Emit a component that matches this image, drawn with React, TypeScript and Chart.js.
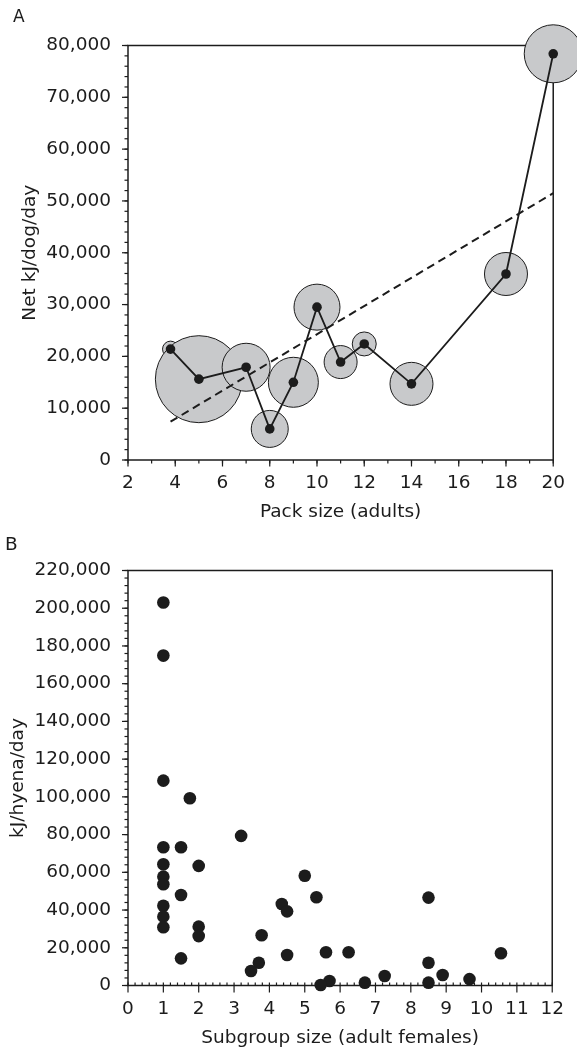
import React, { useEffect, useRef } from 'react';
import { Chart, registerables } from 'chart.js';

Chart.register(...registerables);

const FONT_FAMILY = '"DejaVu Sans", "Liberation Sans", Arial, sans-serif';
const INK = '#1c1c1c';
const BUBBLE_FILL = '#c8c9cb';

// ---------- Panel A: wild dogs ----------
const packSize = [3.8, 5, 7, 8, 9, 10, 11, 12, 14, 18, 20];
const netKJPerDog = [21400, 15600, 17900, 6000, 15000, 29500, 18900, 22400, 14700, 35900, 78400];
const bubbleRadius = [8, 43.5, 24, 18.5, 25, 23, 16.5, 12, 21.5, 21.5, 29];
const trendPackSize = [3.8, 20];
const trendNetKJ = [7400, 51500];

// ---------- Panel B: hyenas ----------
const subgroupSize = [
  1, 1, 1, 1.75, 3.2, 1, 1.5, 1, 2, 1, 1, 5, 1.5, 5.33, 8.5, 1, 4.35, 4.5, 1, 1,
  2, 2, 3.78, 5.6, 6.24, 10.55, 4.5, 1.5, 8.5, 3.7, 3.48, 7.26, 8.9, 9.66, 5.7,
  5.45, 6.7, 8.5,
];
const kJPerHyena = [
  203000, 174900, 108600, 99300, 79300, 73300, 73300, 64300, 63400, 57700, 53700,
  58200, 48000, 46800, 46600, 42300, 43200, 39300, 36500, 30900, 31200, 26200,
  26600, 17600, 17600, 17100, 16200, 14400, 12100, 12100, 7700, 5000, 5600, 3400,
  2400, 300, 1500, 1500,
];

const font = (size: number) => ({ family: FONT_FAMILY, size, weight: 'normal' as const });
const fmt = (v: number | string) => Number(v).toLocaleString('en-US');

const frameTicks = {
  id: 'frameTicks',
  beforeDatasetsDraw(chart: any, _args: any, opts: any) {
    const { ctx, chartArea: a, scales } = chart;
    ctx.save();
    ctx.strokeStyle = INK;
    ctx.lineWidth = 1.5;
    ctx.strokeRect(a.left, a.top, a.right - a.left, a.bottom - a.top);
    ctx.lineWidth = 1.2;
    const xs = scales.x;
    const ys = scales.y;
    const drawX = (step: number, len: number) => {
      const n = Math.round((xs.max - xs.min) / step);
      for (let i = 0; i <= n; i++) {
        const px = xs.getPixelForValue(xs.min + i * step);
        ctx.beginPath();
        ctx.moveTo(px, a.bottom);
        ctx.lineTo(px, a.bottom + len);
        ctx.stroke();
      }
    };
    const drawY = (step: number, len: number) => {
      const n = Math.round((ys.max - ys.min) / step);
      for (let i = 0; i <= n; i++) {
        const py = ys.getPixelForValue(ys.min + i * step);
        ctx.beginPath();
        ctx.moveTo(a.left, py);
        ctx.lineTo(a.left - len, py);
        ctx.stroke();
      }
    };
    drawX(opts.xMinor, opts.xMinorLen);
    drawX(opts.xMajor, opts.xMajorLen);
    drawY(opts.yMinor, opts.yMinorLen);
    drawY(opts.yMajor, opts.yMajorLen);
    ctx.restore();
  },
  afterDraw(chart: any, _args: any, opts: any) {
    const { ctx } = chart;
    ctx.save();
    ctx.fillStyle = INK;
    ctx.font = `${opts.letterSize}px ${FONT_FAMILY}`;
    ctx.textBaseline = 'middle';
    ctx.textAlign = 'left';
    ctx.fillText(opts.letter, opts.letterX, opts.letterY);
    ctx.restore();
  },
};

function PanelA() {
  const ref = useRef<HTMLCanvasElement>(null);
  useEffect(() => {
    if (!ref.current) return;
    const chart = new Chart(ref.current, {
      type: 'scatter',
      data: {
        datasets: [
          {
            type: 'line',
            data: packSize.map((x, i) => ({ x, y: netKJPerDog[i] })),
            borderColor: INK,
            borderWidth: 1.8,
            pointRadius: 4.8,
            pointBackgroundColor: INK,
            pointBorderWidth: 0,
            tension: 0,
            order: 1,
            clip: false,
          } as any,
          {
            type: 'line',
            data: trendPackSize.map((x, i) => ({ x, y: trendNetKJ[i] })),
            borderColor: INK,
            borderWidth: 2,
            borderDash: [8, 5],
            pointRadius: 0,
            order: 2,
            clip: false,
          } as any,
          {
            type: 'bubble',
            data: packSize.map((x, i) => ({ x, y: netKJPerDog[i], r: bubbleRadius[i] })),
            backgroundColor: BUBBLE_FILL,
            borderColor: INK,
            borderWidth: 1,
            order: 3,
            clip: false,
          } as any,
        ],
      },
      options: {
        animation: false,
        responsive: false,
        maintainAspectRatio: false,
        events: [],
        layout: { autoPadding: false, padding: { left: 0, top: 45.5, right: 23, bottom: 0 } },
        plugins: {
          legend: { display: false },
          tooltip: { enabled: false },
          frameTicks: {
            xMajor: 2, xMinor: 1, xMajorLen: 6.5, xMinorLen: 3.5,
            yMajor: 10000, yMinor: 2000, yMajorLen: 6, yMinorLen: 3.5,
            letter: 'A', letterX: 13, letterY: 17.5, letterSize: 17,
          },
        } as any,
        scales: {
          x: {
            type: 'linear',
            min: 2,
            max: 20,
            grid: { display: false, drawTicks: false },
            border: { display: false },
            ticks: { stepSize: 2, padding: 12, color: INK, font: font(18.5) },
            title: {
              display: true,
              text: 'Pack size (adults)',
              color: INK,
              font: font(18.5),
              padding: { top: 0, bottom: 7 },
            },
            afterFit: (s: any) => { s.height = 70; },
          },
          y: {
            type: 'linear',
            min: 0,
            max: 80000,
            grid: { display: false, drawTicks: false },
            border: { display: false },
            ticks: { stepSize: 10000, padding: 17, color: INK, font: font(18.5), callback: fmt },
            title: {
              display: true,
              text: 'Net kJ/dog/day',
              color: INK,
              font: font(18.5),
              padding: { top: 19, bottom: 0 },
            },
            afterFit: (s: any) => { s.width = 128; },
          },
        },
      } as any,
      plugins: [frameTicks],
    });
    return () => chart.destroy();
  }, []);
  return (
    <canvas
      ref={ref}
      width={577}
      height={530}
      style={{ position: 'absolute', left: 0, top: 0, width: 577, height: 530, display: 'block' }}
    />
  );
}

function PanelB() {
  const ref = useRef<HTMLCanvasElement>(null);
  useEffect(() => {
    if (!ref.current) return;
    const chart = new Chart(ref.current, {
      type: 'scatter',
      data: {
        datasets: [
          {
            data: subgroupSize.map((x, i) => ({ x, y: kJPerHyena[i] })),
            pointRadius: 6.3,
            pointBackgroundColor: INK,
            pointBorderWidth: 0,
            clip: false,
          } as any,
        ],
      },
      options: {
        animation: false,
        responsive: false,
        maintainAspectRatio: false,
        events: [],
        layout: { autoPadding: false, padding: { left: 0, top: 40.5, right: 22, bottom: 0 } },
        plugins: {
          legend: { display: false },
          tooltip: { enabled: false },
          frameTicks: {
            xMajor: 1, xMinor: 0.2, xMajorLen: 7, xMinorLen: -3,
            yMajor: 20000, yMinor: 4000, yMajorLen: 6, yMinorLen: 3.5,
            letter: 'B', letterX: 5, letterY: 15, letterSize: 18.5,
          },
        } as any,
        scales: {
          x: {
            type: 'linear',
            min: 0,
            max: 12,
            grid: { display: false, drawTicks: false },
            border: { display: false },
            ticks: { stepSize: 1, padding: 13, color: INK, font: font(18.5) },
            title: {
              display: true,
              text: 'Subgroup size (adult females)',
              color: INK,
              font: font(18.5),
              padding: { top: 0, bottom: 4.4 },
            },
            afterFit: (s: any) => { s.height = 68.5; },
          },
          y: {
            type: 'linear',
            min: 0,
            max: 220000,
            grid: { display: false, drawTicks: false },
            border: { display: false },
            ticks: { stepSize: 20000, padding: 17, color: INK, font: font(18.5), callback: fmt },
            title: {
              display: true,
              text: 'kJ/hyena/day',
              color: INK,
              font: font(18.5),
              padding: { top: 7, bottom: 0 },
            },
            afterFit: (s: any) => { s.width = 128; },
          },
        },
      } as any,
      plugins: [frameTicks],
    });
    return () => chart.destroy();
  }, []);
  return (
    <canvas
      ref={ref}
      width={577}
      height={524}
      style={{ position: 'absolute', left: 0, top: 530, width: 577, height: 524, display: 'block' }}
    />
  );
}

export default function App() {
  return (
    <div style={{ position: 'absolute', left: 0, top: 0, width: 577, height: 1054, background: '#ffffff', overflow: 'hidden' }}>
      <PanelA />
      <PanelB />
    </div>
  );
}
